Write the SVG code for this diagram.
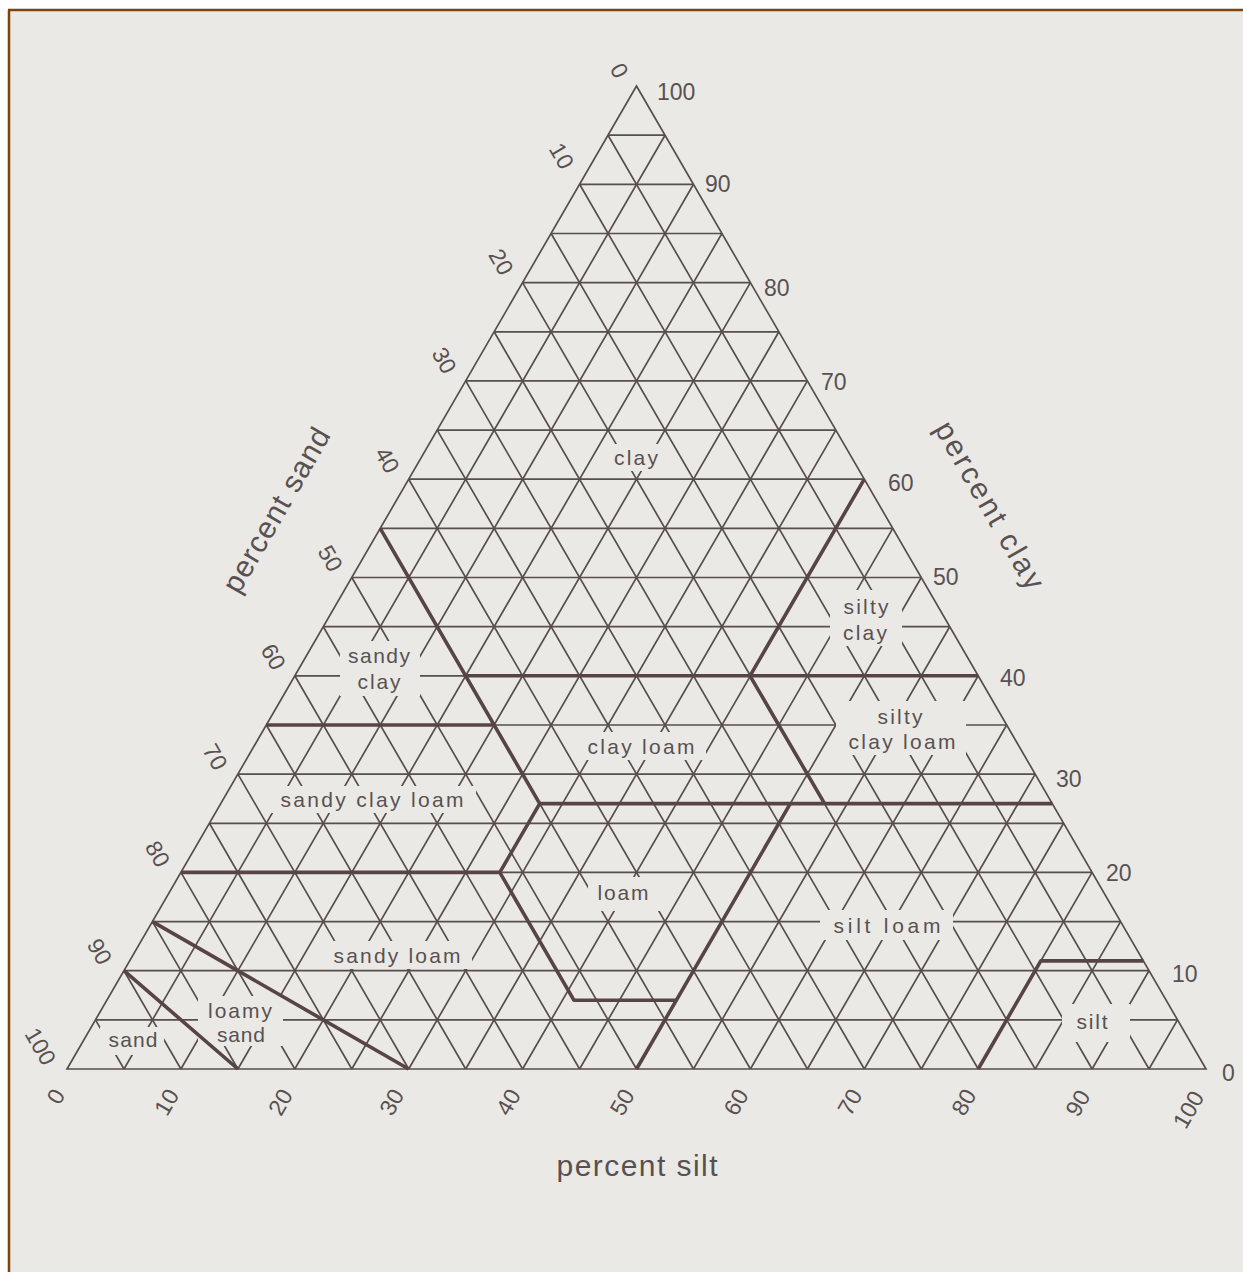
<svg xmlns="http://www.w3.org/2000/svg" width="1243" height="1272" viewBox="0 0 1243 1272">
<style>
.gr{fill:none;stroke:#574e4e;stroke-width:1.7}
.bd{fill:none;stroke:#574444;stroke-width:3.6;stroke-linejoin:round}
.cut{fill:#ebe9e6}
.lb{font-family:"Liberation Sans",Arial,sans-serif;font-size:21px;fill:#595151;text-anchor:middle;dominant-baseline:central}
.nm{font-family:"Liberation Sans",Arial,sans-serif;font-size:23px;fill:#595151;dominant-baseline:central}
.ax{font-family:"Liberation Sans",Arial,sans-serif;font-size:30px;fill:#595151;text-anchor:middle;dominant-baseline:central}
</style>
<rect x="0" y="0" width="1243" height="1272" fill="#ffffff"/>
<rect x="9" y="10" width="1234" height="1262" fill="#ebe9e6"/>
<path d="M8 10H1243M9 10V1272" stroke="#7e4309" stroke-width="2.5" fill="none"/>

<g id="grid" class="gr">
<path d="M95.5 1019.9H1177.5M124 970.7H1149M152.4 921.6H1120.6M180.9 872.4H1092.1M209.4 823.3H1063.6M237.9 774.1H1035.2M266.3 725H1006.7M294.8 675.8H978.2M323.3 626.7H949.7M351.8 577.5H921.3M380.2 528.4H892.8M408.7 479.2H864.3M437.2 430.1H835.8M465.7 380.9H807.4M494.1 331.8H778.9M522.6 282.6H750.4M551.1 233.5H721.9M579.6 184.3H693.5M608 135.2H665"/>
<path d="M124 1069L665 135.2M180.9 1069L693.5 184.3M237.9 1069L721.9 233.5M294.8 1069L750.4 282.6M351.8 1069L778.9 331.8M408.7 1069L807.4 380.9M465.7 1069L835.8 430.1M522.6 1069L864.3 479.2M579.6 1069L892.8 528.4M636.5 1069L921.3 577.5M693.5 1069L949.7 626.7M750.4 1069L978.2 675.8M807.4 1069L1006.7 725M864.3 1069L1035.2 774.1M921.3 1069L1063.6 823.3M978.2 1069L1092.1 872.4M1035.2 1069L1120.6 921.6M1092.1 1069L1149 970.7M1149 1069L1177.5 1019.9"/>
<path d="M1149 1069L608 135.2M1092.1 1069L579.6 184.3M1035.2 1069L551.1 233.5M978.2 1069L522.6 282.6M921.3 1069L494.1 331.8M864.3 1069L465.7 380.9M807.4 1069L437.2 430.1M750.4 1069L408.7 479.2M693.5 1069L380.2 528.4M636.5 1069L351.8 577.5M579.6 1069L323.3 626.7M522.6 1069L294.8 675.8M465.7 1069L266.3 725M408.7 1069L237.9 774.1M351.8 1069L209.4 823.3M294.8 1069L180.9 872.4M237.9 1069L152.4 921.6M180.9 1069L124 970.7M124 1069L95.5 1019.9"/>
</g>

<g id="label-gaps" class="cut">
<rect x="604" y="444" width="64" height="27"/>
<rect x="830" y="590" width="72" height="56"/>
<rect x="340" y="641" width="80" height="55"/>
<rect x="836" y="701" width="130" height="54"/>
<rect x="578" y="732" width="128" height="28"/>
<rect x="268" y="786" width="208" height="27"/>
<rect x="588" y="877" width="72" height="34"/>
<rect x="820" y="910" width="133" height="30"/>
<rect x="322" y="941" width="150" height="28"/>
<rect x="198" y="996" width="85" height="50"/>
<rect x="100" y="1027" width="64" height="28"/>
<rect x="1062" y="1004" width="68" height="38"/>
</g>

<path id="outline" class="gr" d="M636.5 86L1206 1069L67 1069Z" stroke-linejoin="miter"/>

<g id="boundaries" class="bd">
<path d="M380.2 528.4L539.7 803.6L499.8 872.4L573.9 1000.2L676.4 1000.2"/>
<path d="M465.7 675.8H978.2"/>
<path d="M864.3 479.2L750 675.8L824.6 803.6"/>
<path d="M539.7 803.6H1052.3"/>
<path d="M266.3 725H494.1"/>
<path d="M180.9 872.4H499.8"/>
<path d="M790.3 803.6L636.5 1069"/>
<path d="M978.2 1069L1040.8 960.9H1143.4"/>
<path d="M152.4 921.6L408.7 1069"/>
<path d="M124 970.7L237.9 1069"/>
</g>

<g id="class-labels" class="lb">
<text x="636" y="457" textLength="44" lengthAdjust="spacing">clay</text>
<text x="866" y="606" textLength="45" lengthAdjust="spacing">silty</text>
<text x="865" y="632" textLength="44" lengthAdjust="spacing">clay</text>
<text x="379" y="655" textLength="62" lengthAdjust="spacing">sandy</text>
<text x="379" y="681" textLength="43" lengthAdjust="spacing">clay</text>
<text x="900" y="716" textLength="45" lengthAdjust="spacing">silty</text>
<text x="902" y="741" textLength="107" lengthAdjust="spacing">clay loam</text>
<text x="641" y="746" textLength="107" lengthAdjust="spacing">clay loam</text>
<text x="372" y="799" textLength="183" lengthAdjust="spacing">sandy clay loam</text>
<text x="623" y="892" textLength="51" lengthAdjust="spacing">loam</text>
<text x="887" y="925" textLength="107" lengthAdjust="spacing">silt loam</text>
<text x="397" y="955" textLength="127" lengthAdjust="spacing">sandy loam</text>
<text x="240" y="1010" textLength="64" lengthAdjust="spacing">loamy</text>
<text x="241" y="1034" textLength="48" lengthAdjust="spacing">sand</text>
<text x="133" y="1039" textLength="49" lengthAdjust="spacing">sand</text>
<text x="1092" y="1021" textLength="31" lengthAdjust="spacing">silt</text>
</g>

<g id="clay-scale" class="nm">
<text x="657" y="92">100</text>
<text x="705" y="184">90</text>
<text x="764" y="288">80</text>
<text x="821" y="382">70</text>
<text x="888" y="483">60</text>
<text x="933" y="577">50</text>
<text x="1000" y="678">40</text>
<text x="1056" y="779">30</text>
<text x="1106" y="873">20</text>
<text x="1172" y="974">10</text>
<text x="1222" y="1073">0</text>
</g>

<g id="sand-scale" class="nm" text-anchor="end">
<text transform="translate(622.5 76) rotate(60)">0</text>
<text transform="translate(568 167) rotate(60)">10</text>
<text transform="translate(507.6 273) rotate(60)">20</text>
<text transform="translate(450.7 371.5) rotate(60)">30</text>
<text transform="translate(393.7 471.2) rotate(60)">40</text>
<text transform="translate(336.8 569.5) rotate(60)">50</text>
<text transform="translate(279.8 667.8) rotate(60)">60</text>
<text transform="translate(221.5 768) rotate(60)">70</text>
<text transform="translate(164 865) rotate(60)">80</text>
<text transform="translate(106 962.7) rotate(60)">90</text>
<text transform="translate(50 1063) rotate(60)">100</text>
</g>

<g id="silt-scale" class="nm" text-anchor="end">
<text transform="translate(59 1091) rotate(-60)">0</text>
<text transform="translate(172.9 1091) rotate(-60)">10</text>
<text transform="translate(286.8 1091) rotate(-60)">20</text>
<text transform="translate(398 1091) rotate(-60)">30</text>
<text transform="translate(514.6 1091) rotate(-60)">40</text>
<text transform="translate(628.5 1091) rotate(-60)">50</text>
<text transform="translate(742.4 1091) rotate(-60)">60</text>
<text transform="translate(856.3 1091) rotate(-60)">70</text>
<text transform="translate(970.2 1091) rotate(-60)">80</text>
<text transform="translate(1084.1 1092) rotate(-60)">90</text>
<text transform="translate(1198 1093) rotate(-60)">100</text>
</g>

<g id="axis-titles" class="ax">
<text transform="translate(276 510) rotate(-60)" textLength="185" lengthAdjust="spacing">percent sand</text>
<text transform="translate(990 505) rotate(60)" textLength="189" lengthAdjust="spacing">percent clay</text>
<text x="637" y="1165" textLength="161" lengthAdjust="spacing">percent silt</text>
</g>
</svg>
